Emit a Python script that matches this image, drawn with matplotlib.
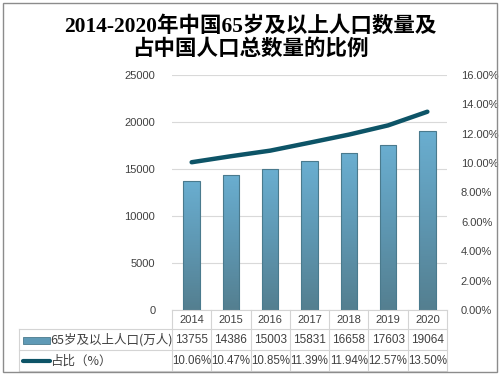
import numpy as np
import matplotlib.pyplot as plt
import matplotlib.transforms as mtransforms
from matplotlib.colors import LinearSegmentedColormap
from matplotlib.patches import Rectangle

plt.rcParams['font.family'] = ['Liberation Sans', 'Noto Sans CJK SC']

# data
years = ['2014', '2015', '2016', '2017', '2018', '2019', '2020']
pop65 = [13755, 14386, 15003, 15831, 16658, 17603, 19064]
ratio = [10.06, 10.47, 10.85, 11.39, 11.94, 12.57, 13.50]
pop_label = '65岁及以上人口(万人)'
ratio_label = '占比（%）'
title = '2014-2020年中国65岁及以上人口数量及\n占中国人口总数量的比例'

W, H = 500, 375
fig = plt.figure(figsize=(W / 100, H / 100), dpi=100)

def fy(y):
    return 1 - y / H

def fx(x):
    return x / W

ax = fig.add_axes([fx(172), fy(310), fx(447) - fx(172), fy(75) - fy(310)])
ax2 = ax.twinx()

x = np.arange(len(years))
bars = ax.bar(x, pop65, width=0.42, color='none', edgecolor='#4a7a8d', linewidth=0.8, zorder=3)

# vertical gradient inside each bar
cmap = LinearSegmentedColormap.from_list('g', ['#547f90', '#5e97b2', '#6aaed0'])
grad = np.linspace(0, 1, 100).reshape(-1, 1)
for b in bars:
    x0, w, h = b.get_x(), b.get_width(), b.get_height()
    im = ax.imshow(grad, extent=[x0, x0 + w, 0, h], origin='lower', aspect='auto',
                   cmap=cmap, zorder=2)
    im.set_clip_path(b)

ax.set_xlim(-0.5, len(years) - 0.5)
ax.set_ylim(0, 25000)
ax.set_yticks(range(0, 25001, 5000))
ax.grid(axis='y', color='#d9d9d9', linewidth=0.8, zorder=0)
ax.set_axisbelow(True)
ax.set_xticks([])
ax.tick_params(axis='y', length=0, pad=12, labelsize=8, labelcolor='#404040')

ax2.plot(x, ratio, color='#0d5467', linewidth=3.2, solid_capstyle='round',
         solid_joinstyle='round', zorder=4)
ax2.set_ylim(0, 16)
ax2.set_yticks(np.arange(0, 16.1, 2))
ax2.set_yticklabels([f'{v:.2f}%' for v in np.arange(0, 16.1, 2)])
ax2.tick_params(axis='y', length=0, pad=10, labelsize=8, labelcolor='#404040')

for a in (ax, ax2):
    for s in a.spines.values():
        s.set_visible(False)

# data table below the plot
trans = mtransforms.blended_transform_factory(ax.transData, fig.transFigure)
lc = '#d4d4d4'
left = (fx(19) - ax.get_position().x0) / ax.get_position().width * len(years) - 0.5
xr = len(years) - 0.5
ax.plot([-0.5, xr], [fy(310)] * 2, color=lc, lw=0.8, transform=trans, clip_on=False)
for yl in (329, 350, 371):
    ax.plot([left, xr], [fy(yl)] * 2, color=lc, lw=0.8, transform=trans, clip_on=False)
for i in range(len(years) + 1):
    ax.plot([i - 0.5] * 2, [fy(310), fy(371)], color=lc, lw=0.8, transform=trans, clip_on=False)
ax.plot([left] * 2, [fy(329), fy(371)], color=lc, lw=0.8, transform=trans, clip_on=False)

for i in range(len(years)):
    ax.text(i, fy(320), years[i], transform=trans, ha='center', va='center',
            fontsize=8, color='#404040')
    ax.text(i, fy(340), str(pop65[i]), transform=trans, ha='center', va='center',
            fontsize=8.5, color='#404040')
    ax.text(i, fy(361), f'{ratio[i]:.2f}%', transform=trans, ha='center', va='center',
            fontsize=8.3, color='#404040')

# legend keys in the table
key = Rectangle((fx(23), fy(344)), fx(50) - fx(23), fy(337) - fy(344), transform=fig.transFigure,
                facecolor='#5f9ab6', edgecolor='#4a7a8d', linewidth=0.6)
fig.add_artist(key)
fig.add_artist(plt.Line2D([fx(23), fx(50)], [fy(361), fy(361)], transform=fig.transFigure,
                          color='#0d5467', linewidth=3, solid_capstyle='round'))
fig.text(fx(50), fy(340), pop_label, ha='left', va='center', fontsize=9, color='#404040',
         family=['Noto Sans CJK SC'])
fig.text(fx(50), fy(361), ratio_label, ha='left', va='center', fontsize=9, color='#404040',
         family=['Noto Sans CJK SC'])

# title
fig.text(0.5, fy(38), title, ha='center', va='center', fontsize=15.5, fontweight='bold',
         linespacing=1.15, family=['Liberation Serif', 'Noto Sans CJK SC'])

# outer border
fig.add_artist(Rectangle((fx(3), fy(372)), fx(497) - fx(3), fy(3) - fy(372),
                         transform=fig.transFigure, fill=False, edgecolor='#8c8c8c', linewidth=1))

fig.savefig('out.png', dpi=100)
